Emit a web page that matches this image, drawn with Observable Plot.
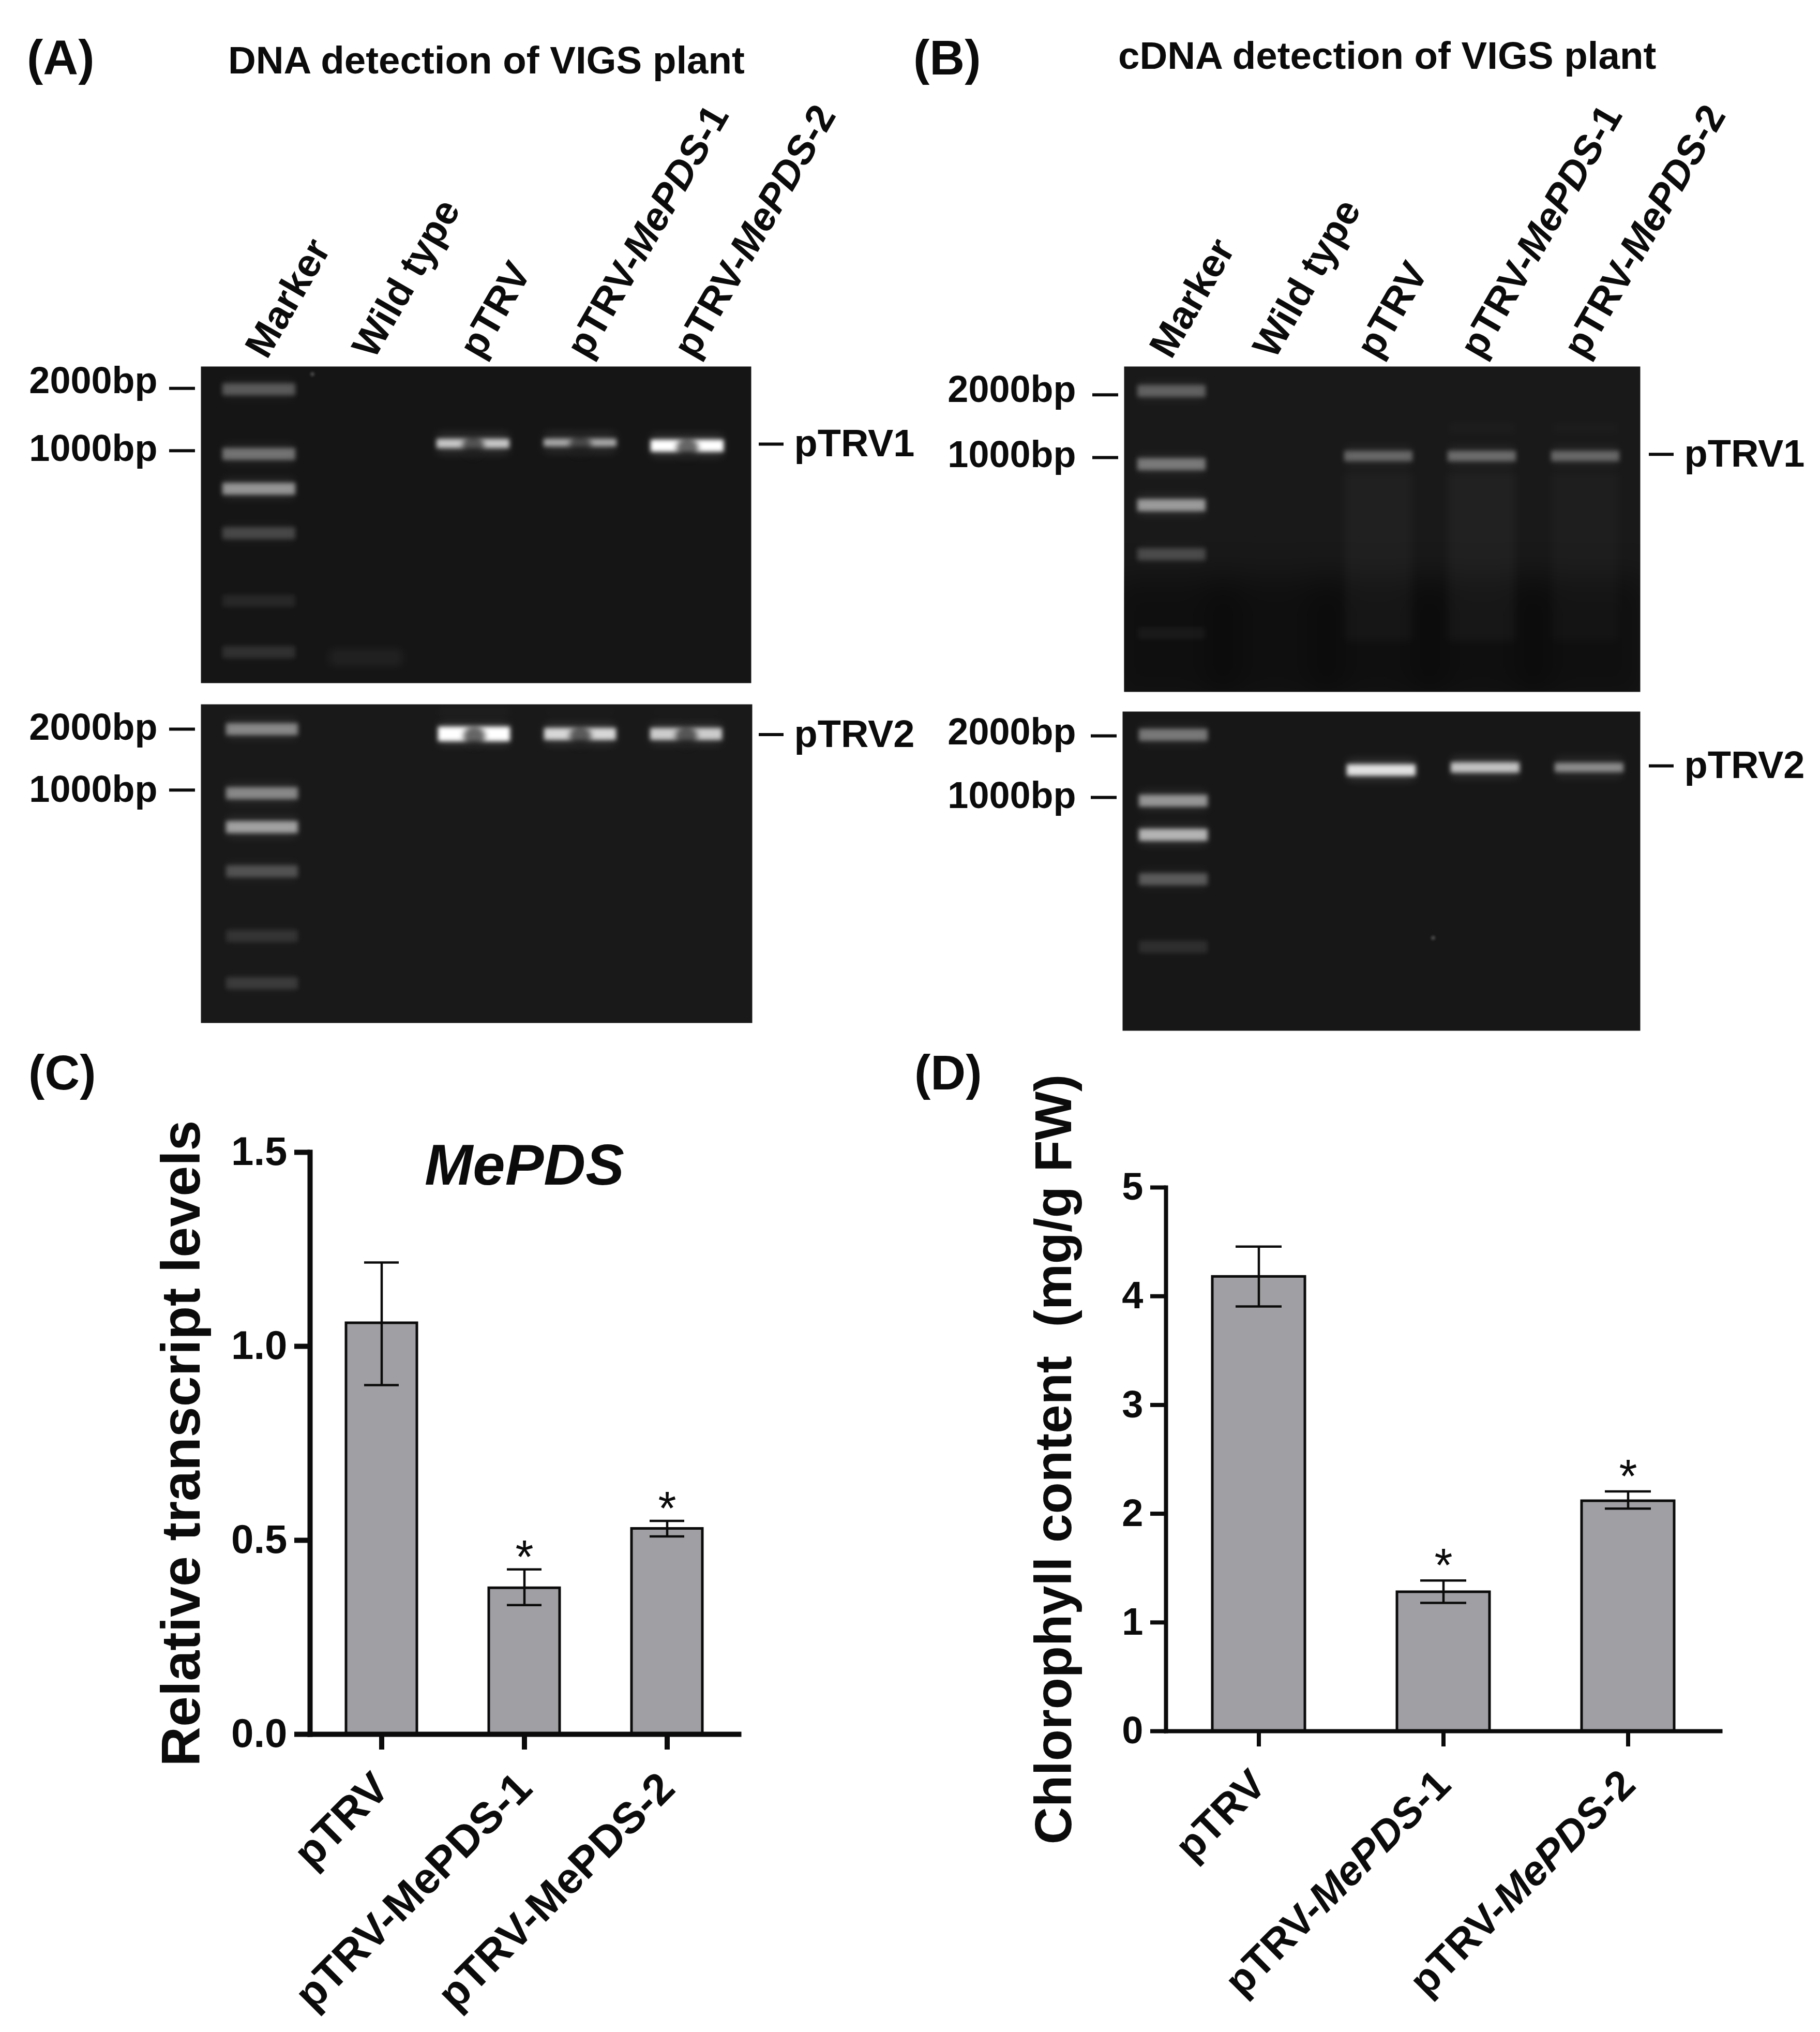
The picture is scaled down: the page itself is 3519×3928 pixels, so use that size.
<!DOCTYPE html>
<html>
<head>
<meta charset="utf-8">
<script src="https://cdn.jsdelivr.net/npm/d3@7"></script>
<script src="https://cdn.jsdelivr.net/npm/@observablehq/plot@0.6"></script>
<style>
  html,body{margin:0;padding:0;background:#fff}
  #page{position:relative;width:3519px;height:3928px;overflow:hidden;background:#fff;font-family:"Liberation Sans",Arial,sans-serif;color:#0b0b0b}
  #page svg{position:absolute;background:transparent;overflow:visible}
  #page svg text{white-space:pre}
  .lab{position:absolute;font-weight:bold;line-height:1;white-space:pre;transform:translateY(-50%)}
</style>
</head>
<body>
<div id="page"></div>
<script>
// ---------- gel data: migration read as % of the gel height, glow as 0–1 brightness ----------
const lanes = ["Marker", "Wild type", "pTRV", "pTRV-MePDS-1", "pTRV-MePDS-2"];
const sampleLanes = ["pTRV", "pTRV-MePDS-1", "pTRV-MePDS-2"];

const a1MarkerRun  = [7.2, 27.6, 38.6, 52.6, 74, 90.2];
const a1MarkerGlow = [.26, .36, .50, .19, .07, .10];
const a1SampleRun  = [24.3, 24, 25];
const a1SampleGlow = [.72, .58, 1];
const a1SampleThick = [18, 15, 23];

const a2MarkerRun  = [7.8, 27.9, 38.5, 52.4, 72.7, 87.5];
const a2MarkerGlow = [.44, .44, .55, .22, .10, .13];
const a2SampleRun  = [9.3, 9.3, 9.3];
const a2SampleGlow = [1, .8, .75];
const a2SampleThick = [28, 23, 23];

const b1MarkerRun  = [7.5, 30, 42.6, 57.7, 82];
const b1MarkerGlow = [.28, .38, .52, .19, .04];
const b1SampleRun  = [27.5, 27.5, 27.5];
const b1SampleGlow = [.30, .32, .30];
const b1SampleThick = [20, 20, 20];

const b2MarkerRun  = [7.3, 27.9, 38.6, 52.5, 73.7];
const b2MarkerGlow = [.38, .50, .64, .26, .09];
const b2SampleRun  = [18.3, 17.5, 17.5];
const b2SampleGlow = [.85, .70, .46];
const b2SampleThick = [22, 20, 18];

// ---------- panel C ----------
const cNames = ["pTRV", "pTRV-MePDS-1", "pTRV-MePDS-2"];
const cMeans = [1.06, 0.377, 0.53];
const cLow   = [0.90, 0.333, 0.51];
const cHigh  = [1.216, 0.425, 0.55];
const cStars = [false, true, true];

// ---------- panel D ----------
const dNames = ["pTRV", "pTRV-MePDS-1", "pTRV-MePDS-2"];
const dMeans = [4.18, 1.28, 2.117];
const dLow   = [3.906, 1.18, 2.047];
const dHigh  = [4.456, 1.386, 2.205];
const dStars = [false, true, true];

const FONT = "Liberation Sans";
const INK = "#0b0b0b";
const page = document.getElementById("page");

function place(svg, left, top) {
  svg.style.left = left + "px";
  svg.style.top = top + "px";
  page.appendChild(svg);
  return svg;
}
function label(text, left, cy, size) {
  const d = document.createElement("div");
  d.className = "lab";
  d.textContent = text;
  d.style.left = left + "px";
  d.style.top = cy + "px";
  d.style.fontSize = size + "px";
  page.appendChild(d);
}
function italicize(svg) {
  svg.querySelectorAll("text").forEach(t => {
    const s = t.textContent;
    const i = s.indexOf("MePDS");
    if (i < 0) return;
    t.textContent = "";
    const NS = "http://www.w3.org/2000/svg";
    const add = (str, it) => {
      const sp = document.createElementNS(NS, "tspan");
      sp.textContent = str;
      if (it) sp.setAttribute("font-style", "italic");
      t.appendChild(sp);
    };
    add(s.slice(0, i));
    add("MePDS", true);
    add(s.slice(i + 5));
  });
}

function gel(cfg) {
  const marker = cfg.run.map((y, i) => ({lane: "Marker", y, b: cfg.glow[i]}));
  const samples = sampleLanes.map((lane, i) => ({lane, y: cfg.sRun[i], b: cfg.sGlow[i], t: cfg.sThick[i]}));
  const ML = 400, MR = 340, MT = cfg.headroom, MB = 30;
  const W = ML + cfg.w + MR, H = MT + cfg.h + MB;
  const x0 = ML + cfg.laneStart;
  const marks = [
    Plot.frame({fill: cfg.bg, stroke: null}),
    // darker lower part of the gel
    Plot.barY(cfg.shade ? lanes : [], {x: d => d, y1: () => cfg.shade, y2: () => 100, fill: "#000", fillOpacity: .38, inset: -20, imageFilter: "blur(30px)", clip: true}),
    // faint smears and glows on the gel
    Plot.barY(cfg.smears || [], {x: "lane", y1: "y1", y2: "y2", fill: "#fff", fillOpacity: "o", inset: cfg.bandInset, imageFilter: "blur(9px)", clip: true}),
    Plot.dot(cfg.specks || [], {x: "lane", y: "y", dx: "dx", r: 4, fill: "#fff", fillOpacity: .22, imageFilter: "blur(2px)", clip: true}),
    // wide soft glow
    Plot.tickY([...marker, ...samples], {x: "lane", y: "y", stroke: "#fff", strokeOpacity: d => d.b * .18, strokeWidth: 38, inset: cfg.bandInset + 2, imageFilter: "blur(9px)", clip: true}),
    // marker bands
    Plot.tickY(marker, {x: "lane", y: "y", stroke: "#fff", strokeOpacity: "b", strokeWidth: 23, inset: cfg.bandInset, imageFilter: "blur(4.5px)", clip: true}),
    // sample bands
    Plot.tickY(samples, {x: "lane", y: "y", stroke: "#fff", strokeOpacity: "b", strokeWidth: d => d.t, inset: cfg.bandInset, imageFilter: "blur(4.5px)", clip: true}),
    // dimmer middle of each band
    Plot.dot(cfg.notch ? samples : [], {x: "lane", y: "y", dy: 5, r: 21, fill: "#1c1c1c", fillOpacity: .68, imageFilter: "blur(6px)", clip: true}),
    // bp ticks and labels
    Plot.axisY({anchor: "left", ticks: cfg.bpTicks, tickFormat: () => "", tickSize: 50, strokeWidth: 6, stroke: INK, dx: -11}),
    Plot.axisY({anchor: "left", ticks: cfg.bpLabelAt, tickSize: 0, tickPadding: cfg.bpPad, fontSize: 72, fill: INK,
      tickFormat: d => cfg.bpNames[cfg.bpLabelAt.indexOf(d)]}),
    // product ticks and labels
    Plot.axisY({anchor: "right", ticks: [cfg.prodTick], tickFormat: () => cfg.prod, tickSize: 48, tickPadding: 21, strokeWidth: 6, stroke: INK, fontSize: 74, fill: INK, dx: cfg.prodDx})
  ];
  if (cfg.laneLabels) marks.push(Plot.axisX({anchor: "top", tickRotate: -60, tickSize: 0, tickPadding: cfg.lanePad, fontSize: 76, fill: INK, dx: cfg.laneDx, label: null}));
  const svg = Plot.plot({
    width: W, height: H, marginLeft: ML, marginRight: MR, marginTop: MT, marginBottom: MB,
    style: {fontFamily: FONT, fontWeight: "bold", background: "transparent", overflow: "visible"},
    x: {type: "band", domain: lanes, range: [x0, x0 + 5 * cfg.laneStep], padding: 0, label: null, axis: null},
    y: {domain: [0, 100], reverse: true, label: null, axis: null},
    opacity: {type: "identity"},
    marks
  });
  italicize(svg);
  place(svg, cfg.left - ML, cfg.top - MT);
}

// A
label("(A)", 52, 112, 94);
label("DNA detection of VIGS plant", 441, 117, 74.5);
gel({left: 388, top: 708, w: 1064, h: 612, headroom: 560, laneStart: 9, laneStep: 207, laneLabels: true, lanePad: 24, laneDx: -6, bg: "#151515", bandInset: 33,
  run: a1MarkerRun, glow: a1MarkerGlow, sRun: a1SampleRun, sGlow: a1SampleGlow, sThick: a1SampleThick, notch: true,
  bpTicks: [6.9, 26.6], bpLabelAt: [4.7, 26], bpNames: ["2000bp", "1000bp"], bpPad: 84,
  prod: "pTRV1", prodTick: 24.5, prodDx: 14,
  smears: [{lane: "Wild type", y1: 84, y2: 100, o: .055}],
  specks: [{lane: "Wild type", y: 2.5, dx: 0}]});
gel({left: 388, top: 1361, w: 1066, h: 616, headroom: 30, laneStart: 15, laneStep: 205.5, laneLabels: false, bg: "#191919", bandInset: 33,
  run: a2MarkerRun, glow: a2MarkerGlow, sRun: a2SampleRun, sGlow: a2SampleGlow, sThick: a2SampleThick, notch: true,
  bpTicks: [7.8, 26.9], bpLabelAt: [7.4, 26.9], bpNames: ["2000bp", "1000bp"], bpPad: 84,
  prod: "pTRV2", prodTick: 9.5, prodDx: 12,
  smears: [
    {lane: "pTRV", y1: -3, y2: 8, o: .27}, {lane: "pTRV-MePDS-1", y1: -3, y2: 8, o: .12}, {lane: "pTRV-MePDS-2", y1: -3, y2: 8, o: .10},
    {lane: "pTRV", y1: 12, y2: 19, o: .04}, {lane: "pTRV-MePDS-1", y1: 12, y2: 18, o: .03}, {lane: "pTRV-MePDS-2", y1: 12, y2: 18, o: .03},
    {lane: "pTRV", y1: 91, y2: 100, o: .025}, {lane: "pTRV-MePDS-1", y1: 90, y2: 100, o: .035}, {lane: "pTRV-MePDS-2", y1: 90, y2: 100, o: .035}
  ]});

// B
label("(B)", 1766, 112, 94);
label("cDNA detection of VIGS plant", 2162, 108, 74.5);
gel({left: 2173, top: 708, w: 998, h: 629, headroom: 560, laneStart: -9, laneStep: 200.5, laneLabels: true, lanePad: 24, laneDx: -22, bg: "#191919", bandInset: 34, shade: 68,
  run: b1MarkerRun, glow: b1MarkerGlow, sRun: b1SampleRun, sGlow: b1SampleGlow, sThick: b1SampleThick, notch: false,
  bpTicks: [8.7, 28], bpLabelAt: [7.2, 27.2], bpNames: ["2000bp", "1000bp"], bpPad: 93,
  prod: "pTRV1", prodTick: 27, prodDx: 16,
  smears: [
    {lane: "pTRV", y1: 27, y2: 90, o: .03}, {lane: "pTRV-MePDS-1", y1: 27, y2: 90, o: .035}, {lane: "pTRV-MePDS-2", y1: 27, y2: 90, o: .025},
    {lane: "pTRV", y1: 14, y2: 26, o: .012}, {lane: "pTRV-MePDS-1", y1: 12, y2: 26, o: .025}, {lane: "pTRV-MePDS-2", y1: 12, y2: 26, o: .02}
  ]});
gel({left: 2170, top: 1375, w: 1001, h: 617, headroom: 30, laneStart: -3, laneStep: 201.5, laneLabels: false, bg: "#171717", bandInset: 34,
  run: b2MarkerRun, glow: b2MarkerGlow, sRun: b2SampleRun, sGlow: b2SampleGlow, sThick: b2SampleThick, notch: false,
  bpTicks: [7.6, 26.9], bpLabelAt: [6.5, 26.5], bpNames: ["2000bp", "1000bp"], bpPad: 90,
  prod: "pTRV2", prodTick: 17, prodDx: 16,
  smears: [
    {lane: "pTRV", y1: 10, y2: 15, o: .05}, {lane: "pTRV-MePDS-1", y1: 9, y2: 14, o: .035},
    {lane: "pTRV", y1: 22, y2: 27, o: .04}, {lane: "pTRV-MePDS-1", y1: 21, y2: 25, o: .03}, {lane: "pTRV-MePDS-2", y1: 21, y2: 25, o: .02}
  ],
  specks: [{lane: "pTRV-MePDS-1", y: 71, dx: 10}]});

// bar panels
function bars(cfg) {
  const rows = cfg.names.map((name, i) => ({name, mean: cfg.means[i], lo: cfg.low[i], hi: cfg.high[i], star: cfg.stars[i]}));
  const starred = rows.filter(d => d.star);
  const marks = [
    Plot.barY(rows, {x: "name", y: "mean", fill: "#a09fa3", stroke: INK, strokeWidth: 5}),
    Plot.ruleX(rows, {x: "name", y1: "lo", y2: "hi", stroke: INK, strokeWidth: 4.5}),
    Plot.tickY(rows, {x: "name", y: "lo", inset: cfg.capInset, stroke: INK, strokeWidth: 4.5}),
    Plot.tickY(rows, {x: "name", y: "hi", inset: cfg.capInset, stroke: INK, strokeWidth: 4.5}),
    Plot.text(starred, {x: "name", y: "hi", text: () => "*", dy: cfg.starDy, fontSize: cfg.starSize, fontWeight: "normal", fill: INK}),
    Plot.frame({anchor: "left", stroke: INK, strokeWidth: cfg.spine}),
    Plot.frame({anchor: "bottom", stroke: INK, strokeWidth: cfg.spine}),
    Plot.axisY({anchor: "left", ticks: cfg.yTicks, tickFormat: cfg.yFmt, tickSize: cfg.tick, tickPadding: 14, strokeWidth: cfg.spine, stroke: INK, fontSize: cfg.yFont, fill: INK}),
    Plot.axisX({anchor: "bottom", tickSize: cfg.tick, tickPadding: cfg.xPad, strokeWidth: cfg.spine, stroke: INK, tickRotate: -45, fontSize: cfg.xFont, fill: INK, label: null}),
    Plot.text([cfg.yLabel], {frameAnchor: "left", textAnchor: "middle", rotate: -90, dx: cfg.yLabelDx, fontSize: cfg.yLabelSize, fill: INK})
  ];
  if (cfg.title) marks.push(Plot.text([cfg.title], {x: () => cfg.names[1], y: () => cfg.titleAt, fontSize: 112, fontStyle: "italic", fill: INK}));
  const svg = Plot.plot({
    width: cfg.w, height: cfg.h, marginLeft: cfg.ml, marginRight: cfg.mr, marginTop: cfg.mt, marginBottom: cfg.mb,
    style: {fontFamily: FONT, fontWeight: "bold", background: "transparent", overflow: "visible"},
    x: {type: "band", domain: cfg.names, paddingInner: cfg.pad, paddingOuter: cfg.pad / 2, label: null, axis: null},
    y: {domain: cfg.yDomain, label: null, axis: null},
    marks
  });
  if (cfg.italic) italicize(svg);
  place(svg, cfg.left, cfg.top);
}

label("(C)", 55, 2074, 94);
bars({left: 0, top: 2150, w: 1478, h: 1778, ml: 599, mr: 50, mt: 77, mb: 576,
  names: cNames, means: cMeans, low: cLow, high: cHigh, stars: cStars, pad: .505, capInset: 35,
  yDomain: [0, 1.5], yTicks: [0, .5, 1, 1.5], yFmt: d3.format(".1f"), yFont: 78,
  tick: 30, spine: 10, xPad: 60, xFont: 84,
  yLabel: "Relative transcript levels", yLabelDx: -247, yLabelSize: 106,
  starDy: -22, starSize: 90, title: "MePDS", titleAt: 1.465});

label("(D)", 1768, 2074, 94);
bars({left: 1750, top: 2050, w: 1769, h: 1878, ml: 504, mr: 193, mt: 245, mb: 582,
  names: dNames, means: dMeans, low: dLow, high: dHigh, stars: dStars, pad: .5, capInset: 45,
  yDomain: [0, 5], yTicks: [0, 1, 2, 3, 4, 5], yFmt: d3.format("d"), yFont: 74,
  tick: 30, spine: 8, xPad: 60, xFont: 80,
  yLabel: "Chlorophyll content  (mg/g FW)", yLabelDx: -216, yLabelSize: 100,
  starDy: -27, starSize: 90, italic: true});
</script>
</body>
</html>
